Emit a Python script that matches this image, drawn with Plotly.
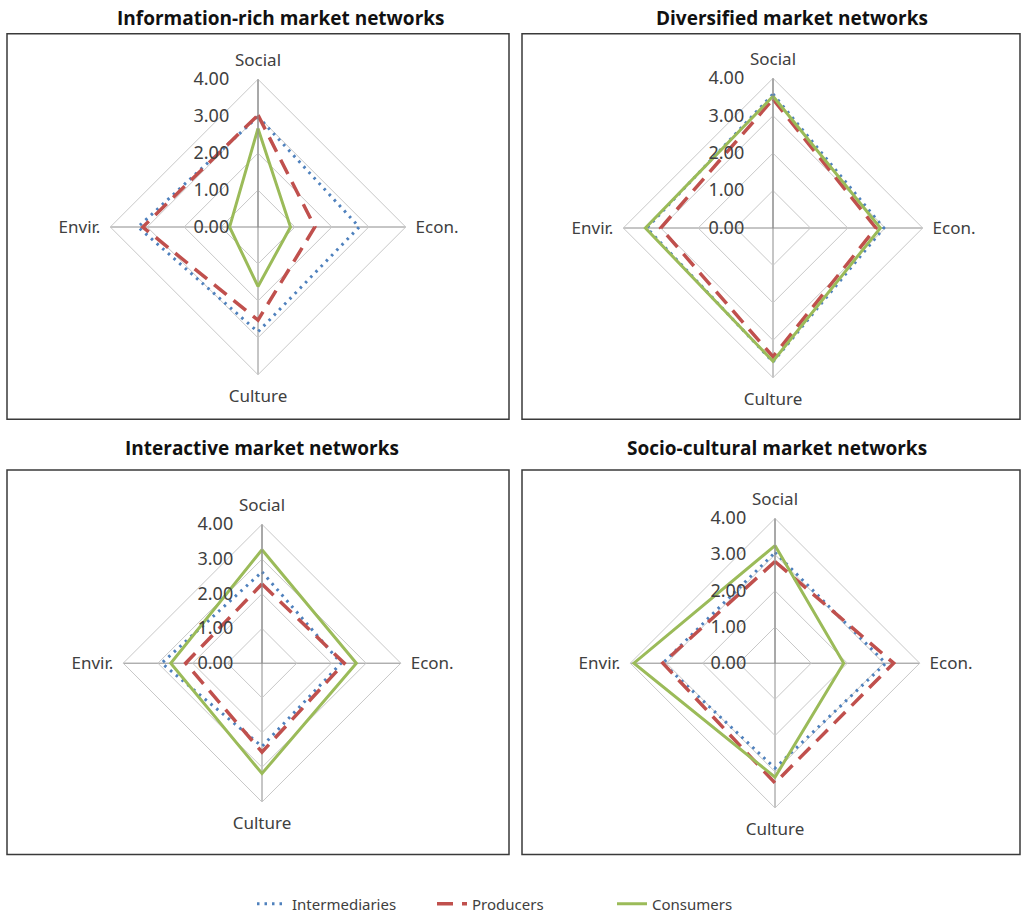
import plotly.graph_objects as go

# Dimensions around each radar, clockwise from the top
axes_labels = ["Social", "Econ.", "Culture", "Envir."]
radial_ticks = [0, 1, 2, 3, 4]
radial_ticktext = ["0.00", "1.00", "2.00", "3.00", "4.00"]

series_names = ["Intermediaries", "Producers", "Consumers"]

panel_titles = [
    "Information-rich market networks",
    "Diversified market networks",
    "Interactive market networks",
    "Socio-cultural market networks",
]

# Scores per panel: [Social, Econ., Culture, Envir.]
info_rich_intermediaries = [2.99, 2.74, 2.84, 3.25]
info_rich_producers = [3.03, 1.54, 2.52, 3.12]
info_rich_consumers = [2.67, 0.88, 1.61, 0.77]

diversified_intermediaries = [3.58, 2.96, 3.58, 3.37]
diversified_producers = [3.44, 2.75, 3.44, 3.00]
diversified_consumers = [3.52, 2.87, 3.56, 3.41]

interactive_intermediaries = [2.63, 2.28, 2.40, 2.89]
interactive_producers = [2.28, 2.37, 2.56, 2.20]
interactive_consumers = [3.27, 2.72, 3.18, 2.63]

socio_cultural_intermediaries = [3.06, 3.06, 2.90, 3.10]
socio_cultural_producers = [2.81, 3.28, 3.31, 3.10]
socio_cultural_consumers = [3.25, 1.90, 3.15, 3.90]

panels = [
    [info_rich_intermediaries, info_rich_producers, info_rich_consumers],
    [diversified_intermediaries, diversified_producers, diversified_consumers],
    [interactive_intermediaries, interactive_producers, interactive_consumers],
    [socio_cultural_intermediaries, socio_cultural_producers, socio_cultural_consumers],
]

W, H = 1022, 921

# Layout in pixels: radar centre/radius, framed box, title centre
radar_geo = [(258, 229, 149), (773, 230, 151), (262, 669, 140), (775, 669, 146)]
frames = [(7, 34, 509, 423), (522, 34, 1020, 423), (7, 474, 509, 862), (522, 474, 1020, 862)]
title_pos = [(280, 18), (792, 18), (262, 452), (777, 452)]

line_styles = [
    dict(color="#4F81BD", width=3, dash="2.5px,5px"),
    dict(color="#C0504D", width=3.5, dash="16px,9px"),
    dict(color="#9BBB59", width=3, dash="solid"),
]

TEXT = "#404040"
FONT = "Noto Sans"


def px_x(x):
    return x / W


def px_y(y):
    return 1 - y / H


fig = go.Figure()

for i, series in enumerate(panels):
    pid = "polar" if i == 0 else f"polar{i + 1}"
    for j, values in enumerate(series):
        fig.add_trace(
            go.Scatterpolar(
                r=values + values[:1],
                theta=axes_labels + axes_labels[:1],
                mode="lines",
                line=line_styles[j],
                name=series_names[j],
                legendgroup=series_names[j],
                showlegend=(i == 0),
                subplot=pid,
            )
        )
    cx, cy, rad = radar_geo[i]
    fig.layout[pid] = dict(
        domain=dict(
            x=[px_x(cx - rad), px_x(cx + rad)],
            y=[px_y(cy + rad), px_y(cy - rad)],
        ),
        gridshape="linear",
        bgcolor="white",
        radialaxis=dict(
            range=[0, 4],
            tickvals=radial_ticks,
            ticktext=radial_ticktext,
            angle=90,
            side="counterclockwise",
            tickangle=90,
            showline=True,
            linecolor="#8C8C8C",
            linewidth=1,
            gridcolor="#C8C8C8",
            gridwidth=1,
            ticks="outside",
            ticklen=22,
            tickcolor="rgba(0,0,0,0)",
            tickfont=dict(family=FONT, size=18, color=TEXT),
        ),
        angularaxis=dict(
            categoryarray=axes_labels,
            categoryorder="array",
            rotation=90,
            direction="clockwise",
            showline=True,
            linecolor="#C8C8C8",
            linewidth=1,
            gridcolor="#8C8C8C",
            gridwidth=1,
            ticks="outside",
            ticklen=6,
            tickcolor="rgba(0,0,0,0)",
            tickfont=dict(family=FONT, size=17, color=TEXT),
        ),
    )

shapes = []
for x0, y0, x1, y1 in frames:
    shapes.append(
        dict(
            type="rect", xref="paper", yref="paper",
            x0=px_x(x0), x1=px_x(x1), y0=px_y(y1), y1=px_y(y0),
            line=dict(color="#3A3A3A", width=1.5),
            fillcolor="rgba(0,0,0,0)", layer="below",
        )
    )

annotations = []
for (tx, ty), title in zip(title_pos, panel_titles):
    annotations.append(
        dict(
            text=f"<b>{title}</b>", x=px_x(tx), y=px_y(ty),
            xref="paper", yref="paper", showarrow=False,
            xanchor="center", yanchor="middle",
            font=dict(family="Open Sans", size=19, color="#111111"),
        )
    )

fig.update_layout(
    width=W,
    height=H,
    margin=dict(l=0, r=0, t=0, b=0),
    paper_bgcolor="white",
    plot_bgcolor="white",
    shapes=shapes,
    annotations=annotations,
    showlegend=True,
    legend=dict(
        orientation="h",
        x=px_x(252), xanchor="left",
        y=px_y(912), yanchor="middle",
        font=dict(family=FONT, size=15, color=TEXT),
        entrywidth=135,
        entrywidthmode="pixels",
        tracegroupgap=0,
    ),
)

fig.write_html("out.html")
